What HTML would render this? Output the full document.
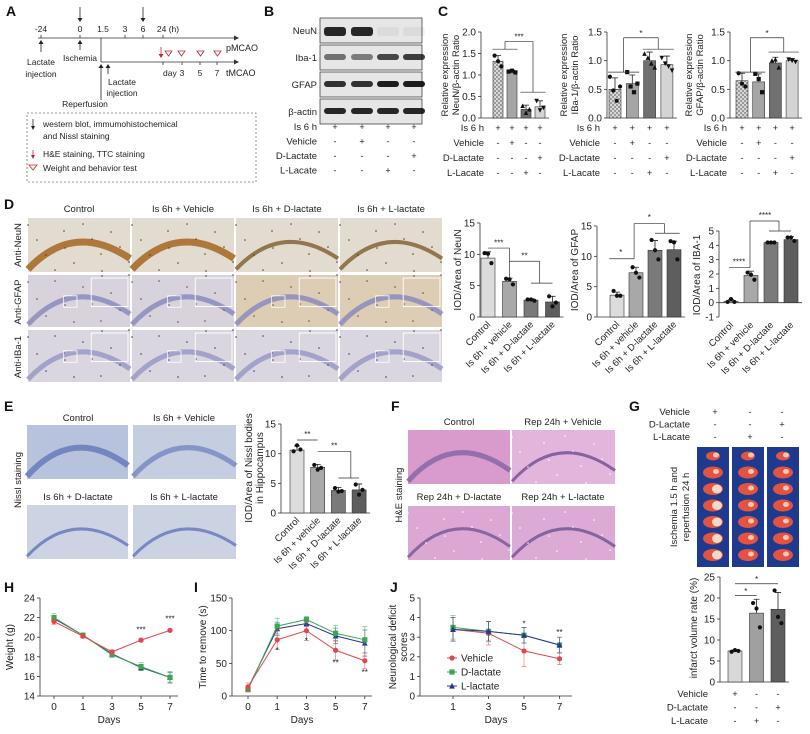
<!DOCTYPE html>
<html><head><meta charset="utf-8">
<style>
html,body{margin:0;padding:0;background:#fff;}
svg{display:block;font-family:"Liberation Sans",Arial,sans-serif;}
</style></head>
<body>
<svg id="fig" width="810" height="734" viewBox="0 0 810 734" xmlns="http://www.w3.org/2000/svg">
<defs>
<pattern id="check" width="4" height="4" patternUnits="userSpaceOnUse"><rect width="4" height="4" fill="#d8d8d8"/><rect width="2" height="2" fill="#9a9a9a"/><rect x="2" y="2" width="2" height="2" fill="#9a9a9a"/></pattern>
</defs>
<g font-weight="bold" font-size="14" fill="#111">
<text x="6" y="16">A</text>
<text x="264" y="16">B</text>
<text x="438" y="16">C</text>
<text x="4" y="209">D</text>
<text x="4" y="411">E</text>
<text x="391" y="411">F</text>
<text x="629" y="411">G</text>
<text x="4" y="592">H</text>
<text x="194" y="592">I</text>
<text x="390" y="592">J</text>
</g>
<g font-size="8.5" fill="#222" stroke-width="0.8">
<line x1="38" y1="38" x2="234" y2="38" stroke="#333"/>
<polygon points="234,35.5 239,38 234,40.5" fill="#333"/>
<line x1="101" y1="62" x2="234" y2="62" stroke="#333"/>
<polygon points="234,59.5 239,62 234,64.5" fill="#333"/>
<line x1="101" y1="38" x2="101" y2="62" stroke="#333"/>
<g stroke="#333"><line x1="41" y1="35" x2="41" y2="38"/><line x1="80" y1="35" x2="80" y2="38"/><line x1="125" y1="35" x2="125" y2="38"/><line x1="143" y1="35" x2="143" y2="38"/><line x1="163" y1="35" x2="163" y2="38"/>
<line x1="163" y1="62" x2="163" y2="65"/><line x1="182" y1="62" x2="182" y2="65"/><line x1="200" y1="62" x2="200" y2="65"/><line x1="217" y1="62" x2="217" y2="65"/></g>
<g text-anchor="middle"><text x="41" y="32">-24</text><text x="80" y="32">0</text><text x="103" y="32">1.5</text><text x="125" y="32">3</text><text x="143" y="32">6</text><text x="168" y="32">24 (h)</text></g>
<g stroke="#222"><line x1="80" y1="7" x2="80" y2="19"/><line x1="143" y1="7" x2="143" y2="19"/><line x1="41" y1="43" x2="41" y2="52"/><line x1="80" y1="42" x2="80" y2="50"/><line x1="101" y1="66" x2="101" y2="100"/><line x1="108" y1="66" x2="108" y2="74"/></g>
<g fill="#222"><polygon points="77.5,18 82.5,18 80,22"/><polygon points="140.5,18 145.5,18 143,22"/><polygon points="38.5,44 43.5,44 41,40"/><polygon points="77.5,44 82.5,44 80,40"/><polygon points="98.5,68 103.5,68 101,64"/><polygon points="105.5,68 110.5,68 108,64"/></g>
<line x1="161" y1="47" x2="161" y2="55" stroke="#c0282d"/><polygon points="158.5,54 163.5,54 161,58" fill="#c0282d"/>
<g fill="none" stroke="#c0282d"><polygon points="165,51 172,51 168.5,56"/><polygon points="178,51 185,51 181.5,56"/><polygon points="197,51 204,51 200.5,56"/><polygon points="214,51 221,51 217.5,56"/></g>
<text x="226" y="51" font-size="9">pMCAO</text><text x="226" y="76" font-size="9">tMCAO</text>
<text x="163" y="76">day</text><text x="182" y="76" text-anchor="middle">3</text><text x="200" y="76" text-anchor="middle">5</text><text x="217" y="76" text-anchor="middle">7</text>
<g text-anchor="middle"><text x="41" y="65">Lactate</text><text x="41" y="77">injection</text><text x="80" y="61">Ischemia</text><text x="122" y="85">Lactate</text><text x="122" y="96">injection</text><text x="85" y="107">Reperfusion</text></g>
<rect x="27" y="113" width="229" height="69" fill="none" stroke="#777" stroke-dasharray="2,2"/>
<line x1="33" y1="119" x2="33" y2="127" stroke="#222"/><polygon points="31,126 35,126 33,130" fill="#222"/>
<text x="43" y="127">western blot, immumohistochemical</text><text x="43" y="139">and Nissl staining</text>
<line x1="33" y1="150" x2="33" y2="156" stroke="#c0282d"/><polygon points="31,155 35,155 33,159" fill="#c0282d"/>
<text x="43" y="157">H&amp;E staining, TTC staining</text>
<polygon points="29,165 37,165 33,170" fill="none" stroke="#c0282d"/>
<text x="43" y="171">Weight and behavior test</text>
</g>
<g id="dyn"></g>
</svg>
<script>
const groupTableRows = ['Is 6 h','Vehicle','D-Lactate','L-Lacate'];
const groupTableMarks = [['+','+','+','+'],['-','+','-','-'],['-','-','-','+'],['-','-','+','-']];
const blotLabels = ['NeuN','Iba-1','GFAP','β-actin'];
const blotIntensity = [[0.9,0.9,0.05,0.05],[0.55,0.5,0.75,0.8],[0.85,0.85,0.95,0.95],[0.9,0.9,0.9,0.9]];

const c1Values = [1.32,1.08,0.2,0.26];
const c1Errors = [0.13,0.03,0.1,0.14];
const c1Points = [[1.45,1.32,1.2],[1.08,1.1,1.06],[0.28,0.12,0.2],[0.4,0.18,0.24]];
const c1Ticks = [0,0.5,1.0,1.5,2.0];
const c1TickLabels = ['0.0','0.5','1.0','1.5','2.0'];
const c2Values = [0.5,0.6,1.0,0.93];
const c2Errors = [0.2,0.15,0.15,0.15];
const c2Points = [[0.72,0.48,0.3,0.55],[0.8,0.55,0.45,0.6],[1.12,1.05,0.95,0.88],[1.05,0.95,0.9,0.83]];
const c3Values = [0.65,0.63,0.96,1.0];
const c3Errors = [0.13,0.14,0.1,0.04];
const c3Points = [[0.78,0.6,0.55],[0.77,0.68,0.45],[1.0,1.02,0.88],[1.02,1.0,0.98]];
const c23Ticks = [0,0.5,1.0,1.5];
const c23TickLabels = ['0.0','0.5','1.0','1.5'];

const dCategories = ['Control','Is 6h + vehicle','Is 6h + D-lactate','Is 6h + L-lactate'];
const d1Values = [9.4,5.7,2.7,2.4];
const d1Errors = [1.0,0.5,0.2,0.9];
const d1Points = [[10.2,10.1,8.6],[6.1,6.0,5.2],[2.8,2.8,2.6],[3.3,1.7,2.3]];
const d2Values = [3.6,7.3,11.0,11.1];
const d2Errors = [0.5,0.9,1.6,1.4];
const d2Points = [[4.3,3.5,3.5],[8.2,7.3,6.5],[12.7,11,9.5],[12.5,12.3,9.5]];
const d3Values = [0.1,1.9,4.2,4.4];
const d3Errors = [0.1,0.3,0.05,0.2];
const d3Points = [[0.05,0.25,0.05],[2.1,1.95,1.6],[4.2,4.2,4.2],[4.55,4.55,4.3]];
const d12Ticks = [0,5,10,15];
const d3Ticks = [-1,0,1,2,3,4,5];
const eValues = [10.6,7.7,3.8,3.9];
const eErrors = [0.7,0.5,0.5,1.0];
const ePoints = [[10.4,11.4,10.7],[8.1,7.3,7.6],[4.2,3.6,3.7],[4.8,3.1,3.9]];
const gValues = [7.4,16.4,17.3];
const gErrors = [0.2,3.3,4.0];
const gPoints = [[7.2,7.6,7.4],[18.8,17.5,13.0],[21.8,15.5,14.0]];
const gTicks = [0,5,10,15,20,25];
const gTableRows = ['Vehicle','D-Lactate','L-Lacate'];
const gTableMarks = [['+','-','-'],['-','-','+'],['-','+','-']];

const hDays = ['0','1','3','5','7'];
const hVehicle = [21.6,20.1,18.5,19.7,20.7];
const hVehicleErr = [0.3,0.2,0.2,0.15,0.1];
const hDLactate = [22.0,20.2,18.2,17.0,15.9];
const hDLactateErr = [0.4,0.2,0.25,0.4,0.6];
const hLLactate = [21.9,20.2,18.3,16.9,15.9];
const hLLactateErr = [0.3,0.2,0.2,0.3,0.5];
const hTicks = [14,16,18,20,22,24];
const iVehicle = [14,86,100,70,54];
const iVehicleErr = [6,15,15,15,12];
const iDLactate = [10,107,117,96,86];
const iDLactateErr = [4,12,5,12,20];
const iLLactate = [12,103,111,92,81];
const iLLactateErr = [3,10,5,12,20];
const iTicks = [0,50,100,150];
const jDays = ['1','3','5','7'];
const jVehicle = [3.4,3.2,2.3,1.9];
const jVehicleErr = [0.6,0.6,0.8,0.3];
const jDLactate = [3.5,3.3,3.1,2.6];
const jDLactateErr = [0.6,0.5,0.4,0.4];
const jLLactate = [3.4,3.3,3.1,2.6];
const jLLactateErr = [0.6,0.5,0.4,0.4];
const jTicks = [0,1,2,3,4,5];

const NS='http://www.w3.org/2000/svg';
const root=document.getElementById('dyn');
function mk(tag,attrs,parent){const e=document.createElementNS(NS,tag);for(const k in attrs)e.setAttribute(k,attrs[k]);(parent||root).appendChild(e);return e;}
function txt(x,y,s,size,anchor,parent,rot,weight){const t=mk('text',{x:x,y:y,'font-size':size||9,'text-anchor':anchor||'start',fill:'#222'},parent);if(rot!==undefined)t.setAttribute('transform','rotate('+rot+' '+x+' '+y+')');if(weight)t.setAttribute('font-weight',weight);t.textContent=s;return t;}
function marker(shape,x,y,r,fill,parent){let e;
 if(shape==='square'){e=mk('rect',{x:x-r,y:y-r,width:2*r,height:2*r,fill:fill},parent);}
 else if(shape==='tri'){e=mk('polygon',{points:(x-r*1.1)+','+(y+r)+' '+(x+r*1.1)+','+(y+r)+' '+x+','+(y-r*1.2),fill:fill},parent);}
 else if(shape==='tridown'){e=mk('polygon',{points:(x-r*1.1)+','+(y-r)+' '+(x+r*1.1)+','+(y-r)+' '+x+','+(y+r*1.2),fill:fill},parent);}
 else {e=mk('circle',{cx:x,cy:y,r:r,fill:fill},parent);}
 return e;}

function barChart(c){
 const g=mk('g',{});
 
 
 const ys=v=>c.yBot-(v-c.min)/(c.max-c.min)*(c.yBot-c.yTop);
 const xs=i=>c.x0+i*c.dx;
 const ya=mk('line',{x1:c.ax,y1:ys(c.max),x2:c.ax,y2:ys(c.min),stroke:'#333','stroke-width':0.8},g);
 
 
 c.ticks.forEach((t,k)=>{
  const tl=mk('line',{x1:c.ax-3,y1:ys(t),x2:c.ax,y2:ys(t),stroke:'#333','stroke-width':0.8},g);
  
  
  const lab=txt(c.ax-5,ys(t)+3.5,c.tickLabels?c.tickLabels[k]:String(t),c.fs||10,'end',g);
  
  
 });
 const base=c.base!==undefined?c.base:c.min;
 const xa=mk('line',{x1:c.ax,y1:ys(base),x2:xs(c.values.length-1)+c.bw/2+4,y2:ys(base),stroke:'#333','stroke-width':0.8},g);
 
 
 c.values.forEach((v,i)=>{
  const cx=xs(i);
  const b=mk('rect',{x:cx-c.bw/2,y:Math.min(ys(v),ys(base)),width:c.bw,height:Math.abs(ys(base)-ys(v)),fill:c.colors[i],stroke:'#333','stroke-width':0.6},g);
  
  
  const eb=mk('path',{d:'M'+cx+','+ys(v)+'V'+ys(v+c.errors[i])+'M'+(cx-3)+','+ys(v+c.errors[i])+'H'+(cx+3),stroke:'#222','stroke-width':0.8,fill:'none'},g);
  
  
  const n=c.points[i].length;
  c.points[i].forEach((p,j)=>{
   const m=marker(c.shapes?c.shapes[i]:'circle',cx+(j-(n-1)/2)*3.4,ys(p),2.1,'#111',g);
   
   
  });
 });
 (c.brackets||[]).forEach(s=>{
  const l=mk('line',{x1:xs(s[0]),y1:ys(s[1]),x2:xs(s[2]),y2:ys(s[3]),stroke:'#333','stroke-width':0.7},g);
  
  
 });
 (c.stars||[]).forEach(s=>{
  const t=txt(xs(s[0]),ys(s[1]),s[2],8,'middle',g);
  
  
 });
 c.ylabel.forEach((s,k)=>{
  const t=txt(c.ylx+k*11,c.yly,s,c.ylfs||10,'middle',g,-90);
  
  
 });
 if(c.cats){c.cats.forEach((s,i)=>{
  const t=txt(xs(i)+3,ys(base)+(c.catDy||8),s,9.5,'end',g,-45);
  
  
 });}
 if(c.table){c.table.rows.forEach((r,k)=>{
  const y=c.table.y0+k*c.table.dy;
  const t=txt(c.table.lx,y,r,9.5,'end',g);
  
  
  c.table.marks[k].forEach((m,i)=>{
   const mt=txt(xs(i),y,m,9,'middle',g);
   
   
  });
 });}
}

function lineChart(c){
 const g=mk('g',{});
 
 
 const ys=v=>c.yBot-(v-c.min)/(c.max-c.min)*(c.yBot-c.yTop);
 const xs=i=>c.x0+i*c.dx;
 const ya=mk('line',{x1:c.ax,y1:c.yTop,x2:c.ax,y2:c.yBot,stroke:'#333','stroke-width':0.8},g);
 
 
 const xa=mk('line',{x1:c.ax,y1:c.yBot,x2:c.xEnd,y2:c.yBot,stroke:'#333','stroke-width':0.8},g);
 
 
 c.ticks.forEach(t=>{
  const tl=mk('line',{x1:c.ax-3,y1:ys(t),x2:c.ax,y2:ys(t),stroke:'#333','stroke-width':0.8},g);
  
  
  const lab=txt(c.ax-5,ys(t)+3.5,String(t),10,'end',g);
  
  
 });
 c.cats.forEach((s,i)=>{
  const tl=mk('line',{x1:xs(i),y1:c.yBot,x2:xs(i),y2:c.yBot+3,stroke:'#333','stroke-width':0.8},g);
  
  
  const lab=txt(xs(i),c.yBot+14,s,10,'middle',g);
  
  
 });
 const xt=txt((c.ax+c.xEnd)/2,c.yBot+27,'Days',10,'middle',g);
 
 
 c.ylabel.forEach((s,k)=>{
  const t=txt(c.ylx+k*11,(c.yTop+c.yBot)/2,s,10,'middle',g,-90);
  
  
 });
 c.series.forEach(s=>{
  const sg=mk('g',{},g);
  
  
  s.vals.forEach((v,i)=>{
   const e=mk('path',{d:'M'+xs(i)+','+ys(v-s.errs[i])+'V'+ys(v+s.errs[i])+'M'+(xs(i)-2.5)+','+ys(v+s.errs[i])+'H'+(xs(i)+2.5)+'M'+(xs(i)-2.5)+','+ys(v-s.errs[i])+'H'+(xs(i)+2.5),stroke:s.color,'stroke-width':0.7,fill:'none',opacity:0.7},sg);
   
   
  });
  const pl=mk('polyline',{points:s.vals.map((v,i)=>xs(i)+','+ys(v)).join(' '),fill:'none',stroke:s.color,'stroke-width':1},sg);
  
  
  s.vals.forEach((v,i)=>{
   const m=marker(s.shape,xs(i),ys(v),2.6,s.color,sg);
   
   
  });
 });
 (c.stars||[]).forEach(s=>{
  const t=txt(xs(s[0]),ys(s[1]),s[2],8,'middle',g);
  
  
 });
 if(c.legend){c.series.forEach((s,k)=>{
  const y=c.legend.y+k*14;
  const ll=mk('line',{x1:c.legend.x-5,y1:y,x2:c.legend.x+5,y2:y,stroke:s.color},g);
  
  
  const m=marker(s.shape,c.legend.x,y,2.6,s.color,g);
  
  
  const t=txt(c.legend.x+9,y+3.5,s.label,10,'start',g);
  
  
 });}
}

function micro(x,y,w,h,bg,band,bandW,name,curve,dots,inset){
 const g=mk('g',{});
 
 
 mk('rect',{x:x,y:y,width:w,height:h,fill:bg},g);
 const cy=y+h*(curve||0.55);
 const p=mk('path',{d:'M'+x+','+(y+h*0.95)+' Q'+(x+w*0.45)+','+(cy-h*0.55)+' '+(x+w)+','+(y+h*0.75),stroke:band,'stroke-width':bandW,fill:'none',opacity:0.9},g);
 
 
 if(dots){for(let k=0;k<14;k++){mk('circle',{cx:x+((k*37)%w),cy:y+((k*23+7)%h),r:0.8,fill:dots},g);}}
 if(inset){mk('rect',{x:x+w*0.62,y:y+3,width:w*0.36,height:h*0.55,fill:'none',stroke:'#fff','stroke-width':0.9},g);
  mk('rect',{x:x+w*0.35,y:y+h*0.4,width:w*0.13,height:h*0.22,fill:'none',stroke:'#fff','stroke-width':0.8},g);}
}

(function(){
 const g=mk('g',{});
 
 
 const lanes=[335,362,388,414];
 blotLabels.forEach((lab,r)=>{
  const y=18+r*27;
  const bx=mk('rect',{x:320,y:y,width:102,height:25,fill:'#e6e6e6',stroke:'#444','stroke-width':0.8},g);
  
  
  const t=txt(317,y+16,lab,9.5,'end',g);
  
  
  lanes.forEach((lx,i)=>{
   const a=blotIntensity[r][i];
   const band=mk('rect',{x:lx-11,y:y+9,width:22,height:r===0?9:6,rx:3,fill:'#111','fill-opacity':a},g);
   
   
  });
 });
 groupTableRows.forEach((r,k)=>{
  const y=130+k*14.5;
  const t=txt(317,y,r,9.5,'end',g);
  
  
  groupTableMarks[k].forEach((m,i)=>{
   const mt=txt(lanes[i],y,m,9,'middle',g);
   
   
  });
 });
})();

const cCols=['url(#check)','#a5a5a5','#707070','#d4d4d4'];
const cShapes=['circle','square','tri','tridown'];
barChart({name:'c-neun-chart',ax:481,x0:498,dx:14,bw:10,yTop:32,yBot:118,min:0,max:2.0,ticks:c1Ticks,tickLabels:c1TickLabels,
 values:c1Values,errors:c1Errors,points:c1Points,colors:cCols,shapes:cShapes,
 brackets:[[-0.4,1.6,1.4,1.6],[1.6,0.6,3.4,0.6],[0.5,1.6,0.5,1.78],[2.5,0.6,2.5,1.78],[0.5,1.78,2.5,1.78]],stars:[[1.5,1.82,'***']],
 ylabel:['Relative expression','NeuN/β-actin Ratio'],ylx:448,yly:75,ylfs:9.5,
 table:{rows:groupTableRows,marks:groupTableMarks,y0:131,dy:15,lx:484}});
barChart({name:'c-iba1-chart',ax:607,x0:615,dx:17.3,bw:12,yTop:32,yBot:118,min:0,max:1.5,ticks:c23Ticks,tickLabels:c23TickLabels,
 values:c2Values,errors:c2Errors,points:c2Points,colors:cCols,shapes:cShapes,
 brackets:[[-0.4,0.8,1.4,0.8],[1.6,1.2,3.4,1.2],[0.5,0.8,0.5,1.4],[2.5,1.2,2.5,1.4],[0.5,1.4,2.5,1.4]],stars:[[1.5,1.43,'*']],
 ylabel:['Relative expression','IBa-1/β-actin Ratio'],ylx:567,yly:75,ylfs:9.5,
 table:{rows:groupTableRows,marks:groupTableMarks,y0:131,dy:15,lx:600}});
barChart({name:'c-gfap-chart',ax:730,x0:742,dx:16.7,bw:12,yTop:32,yBot:118,min:0,max:1.5,ticks:c23Ticks,tickLabels:c23TickLabels,
 values:c3Values,errors:c3Errors,points:c3Points,colors:cCols,shapes:cShapes,
 brackets:[[-0.4,0.8,1.4,0.8],[1.6,1.15,3.4,1.15],[0.5,0.8,0.5,1.4],[2.5,1.15,2.5,1.4],[0.5,1.4,2.5,1.4]],stars:[[1.5,1.43,'*']],
 ylabel:['Relative expression','GFAP/β-actin Ratio'],ylx:692,yly:75,ylfs:9.5,
 table:{rows:groupTableRows,marks:groupTableMarks,y0:131,dy:15,lx:727}});

(function(){
 const colX=[28,132,236,340];
 const titles=['Control','Is 6h + Vehicle','Is 6h + D-lactate','Is 6h + L-lactate'];
 titles.forEach((t,i)=>{const e=txt(colX[i]+51,212,t,9.5,'middle');
  
  });
 const rows=['Anti-NeuN','Anti-GFAP','Anti-IBa-1'];
 const rowY=[218,275,330];
 rows.forEach((r,k)=>{const e=txt(21,rowY[k]+27,r,9.5,'middle',null,-90);
  
  });
 colX.forEach((x,i)=>{
  micro(x,218,102,54,'#e2dbd0',i<2?'#a86d2a':'#8a6a3e',i<2?7:4,'neun-micrograph',0.6,'#5a3c20',false);
  micro(x,275,102,52,i>=2?'#dccdb4':'#d7d2dc','#8f8fbf',5,'gfap-micrograph',0.55,'#6a4a30',true);
  micro(x,330,102,52,'#dad6e0','#9b9cc8',5,'iba1-micrograph',0.55,'#4a3a50',true);
 });
})();
const dCols=['#dcdcdc','#a8a8a8','#7a7a7a','#5e5e5e'];
barChart({name:'d-neun-chart',ax:480,x0:488,dx:21.5,bw:14,yTop:223,yBot:317,min:0,max:15,ticks:d12Ticks,
 values:d1Values,errors:d1Errors,points:d1Points,colors:dCols,
 brackets:[[0,11,1,11],[1,11,1,6.3],[1,8.9,2.4,8.9],[2.4,8.9,2.4,5.4],[2,5.4,3,5.4]],stars:[[0.5,11.4,'***'],[1.7,9.3,'**']],
 ylabel:['IOD/Area of NeuN'],ylx:461,yly:270,cats:dCategories});
barChart({name:'d-gfap-chart',ax:597,x0:617,dx:19,bw:14,yTop:226,yBot:317,min:0,max:15,ticks:d12Ticks,
 values:d2Values,errors:d2Errors,points:d2Points,colors:dCols,
 brackets:[[-0.4,9.6,0.9,9.6],[0.9,9.6,0.9,15.4],[0.9,15.4,2.5,15.4],[2.5,15.4,2.5,13.8],[2,13.8,3.3,13.8]],stars:[[0.2,10.2,'*'],[1.7,16.0,'*']],
 ylabel:['IOD/Area of GFAP'],ylx:578,yly:270,cats:dCategories});
barChart({name:'d-iba1-chart',ax:719,x0:731,dx:20,bw:14,yTop:231,yBot:317,min:-1,max:5,base:0,ticks:d3Ticks,
 values:d3Values,errors:d3Errors,points:d3Points,colors:dCols,
 brackets:[[-0.1,2.44,0.95,2.44],[0.95,2.44,0.95,5.7],[0.95,5.7,2.4,5.7],[2.4,5.7,2.4,5.0],[1.9,5.0,3,5.0]],stars:[[0.4,2.65,'****'],[1.7,5.9,'****']],
 ylabel:['IOD/Area of IBA-1'],ylx:700,yly:275,cats:dCategories,catDy:23});

(function(){
 const t=[['Control',78,421],['Is 6h + Vehicle',184,421],['Is 6h + D-lactate',78,500],['Is 6h + L-lactate',184,500]];
 t.forEach(a=>{const e=txt(a[1],a[2],a[0],9.5,'middle');
  
  });
 const e=txt(21,480,'Nissl staining',9.5,'middle',null,-90);
 
 
 micro(27,425,101,54,'#b7c3dc','#6c80bd',6,'nissl-micrograph',0.55,null,false);
 micro(133,425,103,54,'#c5cde0','#7e8fc4',5,'nissl-micrograph',0.55,null,false);
 micro(27,505,101,54,'#cdd3e2','#6d7fc0',3,'nissl-micrograph',0.6,null,false);
 micro(133,505,103,54,'#cbd2e2','#7080bf',3,'nissl-micrograph',0.6,null,false);
})();
barChart({name:'e-nissl-chart',ax:281,x0:297,dx:20.7,bw:14,yTop:424,yBot:513,min:0,max:15,ticks:d12Ticks,
 values:eValues,errors:eErrors,points:ePoints,colors:dCols,
 brackets:[[0,12.3,1,12.3],[1,10.4,2.6,10.4],[2.6,10.4,2.6,5.9],[2,5.9,3,5.9]],stars:[[0.5,12.8,'**'],[1.8,10.9,'**']],
 ylabel:['IOD/Area of Nissl bodies','in Hippocampus'],ylx:252,yly:468,cats:dCategories});

(function(){
 const t=[['Control',459,425],['Rep 24h + Vehicle',563,425],['Rep 24h + D-lactate',459,500],['Rep 24h + L-lactate',563,500]];
 t.forEach(a=>{const e=txt(a[1],a[2],a[0],9.5,'middle');
  
  });
 const e=txt(402,495,'H&E staining',9.5,'middle',null,-90);
 
 
 micro(408,430,102,54,'#d89bcb','#8c6aa8',5,'he-micrograph',0.55,null,false);
 micro(512,430,103,54,'#e4b5dc','#7a5a98',3,'he-micrograph',0.55,'#fff',false);
 micro(408,506,102,54,'#dca7d2','#7d5f9c',3,'he-micrograph',0.55,'#fff',false);
 micro(512,506,103,54,'#dcaad4','#7a5c98',3,'he-micrograph',0.55,'#fff',false);
})();

(function(){
 const g=mk('g',{});
 
 
 const cols=[718,750,782];
 gTableRows.forEach((r,k)=>{
  const y=415+k*12.5;
  const t=txt(690,y,r,9.5,'end',g);
  
  
  gTableMarks[k].forEach((m,i)=>{const mt=txt(cols[i]+(i===0?-3:0),y,m,9,'middle',g);
   
   });
 });
 const tl=txt(677,507,'Ischemia 1.5 h and',9.5,'middle',g,-90);
 
 
 const tl2=txt(689,507,'reperfusion 24 h',9.5,'middle',g,-90);
 
 
 [697,732,767].forEach((x,i)=>{
  const tr=mk('rect',{x:x,y:447,width:32,height:120,fill:'#1d3a8e'},g);
  
  
  for(let k=0;k<7;k++){
   const cy=456+k*16.5;
   mk('ellipse',{cx:x+16,cy:cy,rx:k<1?7:10,ry:k<1?4.5:6,fill:'#e4533f'},g);
   if(i===0&&k>1)mk('ellipse',{cx:x+20,cy:cy,rx:5,ry:4.5,fill:'#f2d9c8'},g);
   else mk('ellipse',{cx:x+19,cy:cy-1,rx:3,ry:2.5,fill:'#f0c8b8'},g);
  }
 });
})();
barChart({name:'g-infarct-chart',ax:720,x0:735,dx:21.5,bw:14,yTop:577,yBot:682,min:0,max:25,ticks:gTicks,
 values:gValues,errors:gErrors,points:gPoints,colors:['#d8d8d8','#a0a0a0','#5e5e5e'],
 brackets:[[0,20.6,1,20.6],[0,23.4,2,23.4]],stars:[[0.5,21.0,'*'],[1,23.8,'*']],
 ylabel:['infarct volume rate (%)'],ylx:697,yly:628,
 table:{rows:gTableRows,marks:gTableMarks,y0:697,dy:13.5,lx:708}});

const RED='#e2474c',GREEN='#38a851',BLUE='#2a3790';
lineChart({name:'h-weight-chart',ax:40,xEnd:178,x0:54,dx:29,yTop:598,yBot:696,min:14,max:24,ticks:hTicks,cats:hDays,
 ylabel:['Weight (g)'],ylx:13,
 series:[{name:'l-lactate',label:'L-lactate',vals:hLLactate,errs:hLLactateErr,color:BLUE,shape:'tri'},
  {name:'d-lactate',label:'D-lactate',vals:hDLactate,errs:hDLactateErr,color:GREEN,shape:'square'},
  {name:'vehicle',label:'Vehicle',vals:hVehicle,errs:hVehicleErr,color:RED,shape:'circle'}],
 stars:[[3,20.5,'***'],[4,21.6,'***']]});
lineChart({name:'i-time-to-remove-chart',ax:232,xEnd:372,x0:248,dx:29.2,yTop:598,yBot:696,min:0,max:150,ticks:iTicks,cats:hDays,
 ylabel:['Time to remove (s)'],ylx:206,
 series:[{name:'l-lactate',label:'L-lactate',vals:iLLactate,errs:iLLactateErr,color:BLUE,shape:'tri'},
  {name:'d-lactate',label:'D-lactate',vals:iDLactate,errs:iDLactateErr,color:GREEN,shape:'square'},
  {name:'vehicle',label:'Vehicle',vals:iVehicle,errs:iVehicleErr,color:RED,shape:'circle'}],
 stars:[[1,66,'*'],[2,80,'*'],[3,47,'**'],[4,32,'**']]});
lineChart({name:'j-neuro-score-chart',ax:420,xEnd:572,x0:453,dx:35.5,yTop:598,yBot:696,min:0,max:5,ticks:jTicks,cats:jDays,
 ylabel:['Neurological deficit','scores'],ylx:396,
 series:[{name:'vehicle',label:'Vehicle',vals:jVehicle,errs:jVehicleErr,color:RED,shape:'circle'},
  {name:'d-lactate',label:'D-lactate',vals:jDLactate,errs:jDLactateErr,color:GREEN,shape:'square'},
  {name:'l-lactate',label:'L-lactate',vals:jLLactate,errs:jLLactateErr,color:BLUE,shape:'tri'}],
 legend:{x:452,y:658},
 stars:[[2,3.55,'*'],[3,3.1,'**']]});
</script>
</body></html>
